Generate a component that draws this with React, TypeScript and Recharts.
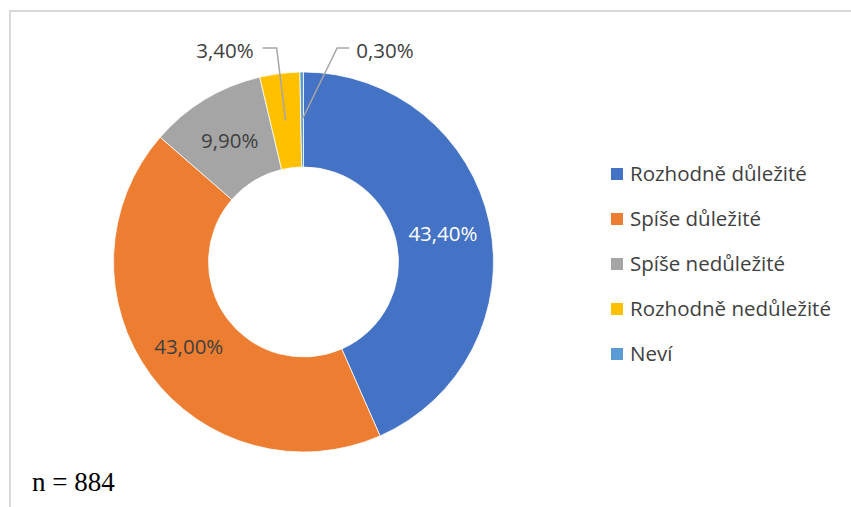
import React from "react";
import { PieChart, Pie, Cell, Legend } from "recharts";

const categories = [
  "Rozhodně důležité",
  "Spíše důležité",
  "Spíše nedůležité",
  "Rozhodně nedůležité",
  "Neví",
];
const values = [43.4, 43.0, 9.9, 3.4, 0.3];
const colors = ["#4472C4", "#ED7D31", "#A5A5A5", "#FFC000", "#5B9BD5"];
const sampleNote = "n = 884";

const data = categories.map((name, i) => ({ name, value: values[i] }));

const RADIAN = Math.PI / 180;
const FONT = "'Open Sans', 'Noto Sans', sans-serif";

const fmt = (v: number) => v.toFixed(2).replace(".", ",") + "%";

const renderLabel = (props: any) => {
  const { cx, cy, midAngle, innerRadius, outerRadius, value, index } = props;
  const r = (innerRadius + outerRadius) / 2;
  const x = cx + r * Math.cos(-midAngle * RADIAN);
  const y = cy + r * Math.sin(-midAngle * RADIAN);
  const pct = value / values.reduce((a, b) => a + b, 0);
  if (pct >= 0.05) {
    return (
      <text
        x={x}
        y={y}
        textAnchor="middle"
        dominantBaseline="central"
        fontFamily={FONT}
        fontSize={20.5}
        fill={index === 0 ? "#FFFFFF" : "#404040"}
      >
        {fmt(value)}
      </text>
    );
  }
  const isLast = index === values.length - 1;
  const ey = cy - outerRadius - 24;
  const ex = isLast ? x + 35 : x - 9;
  const hx = isLast ? ex + 12 : ex - 14;
  const tx = isLast ? hx + 7 : hx - 9;
  return (
    <g>
      <polyline
        points={`${x},${y} ${ex},${ey} ${hx},${ey}`}
        fill="none"
        stroke="#A6A6A6"
        strokeWidth={1.5}
      />
      <text
        x={tx}
        y={ey + 2}
        textAnchor={isLast ? "start" : "end"}
        dominantBaseline="central"
        fontFamily={FONT}
        fontSize={20.5}
        fill="#404040"
      >
        {fmt(value)}
      </text>
    </g>
  );
};

const renderLegend = () => (
  <div style={{ fontFamily: FONT, fontSize: 20.5, color: "#404040" }}>
    {categories.map((c, i) => (
      <div
        key={c}
        style={{ display: "flex", alignItems: "center", height: 45, whiteSpace: "nowrap" }}
      >
        <span
          style={{
            display: "inline-block",
            width: 12,
            height: 12,
            background: colors[i],
            marginRight: 7,
            marginTop: 2,
          }}
        />
        <span>{c}</span>
      </div>
    ))}
  </div>
);

export default function App() {
  return (
    <div style={{ position: "absolute", left: 0, top: 0, width: 851, height: 507, background: "#fff", overflow: "hidden" }}>
      <div
        style={{
          position: "absolute",
          left: 9,
          top: 10,
          width: 860,
          height: 520,
          border: "2px solid #D9D9D9",
          boxSizing: "border-box",
        }}
      />
      <PieChart
        width={851}
        height={507}
        margin={{ top: 0, right: 0, bottom: 0, left: 0 }}
        style={{ position: "absolute", left: 0, top: 0 }}
      >
        <Pie
          data={data}
          dataKey="value"
          nameKey="name"
          cx={303.5}
          cy={262}
          innerRadius={95}
          outerRadius={190}
          startAngle={90}
          endAngle={-270}
          stroke="#FFFFFF"
          strokeWidth={0.75}
          label={renderLabel}
          labelLine={false}
          isAnimationActive={false}
        >
          {data.map((d, i) => (
            <Cell key={d.name} fill={colors[i]} />
          ))}
        </Pie>
        <Legend
          content={renderLegend}
          layout="vertical"
          wrapperStyle={{ position: "absolute", left: 611, top: 150, width: 240 }}
        />
      </PieChart>
      <div
        style={{
          position: "absolute",
          left: 32,
          top: 466,
          fontFamily: "'Liberation Serif', 'Times New Roman', serif",
          fontSize: 27,
          color: "#000",
          lineHeight: "32px",
        }}
      >
        {sampleNote}
      </div>
    </div>
  );
}
